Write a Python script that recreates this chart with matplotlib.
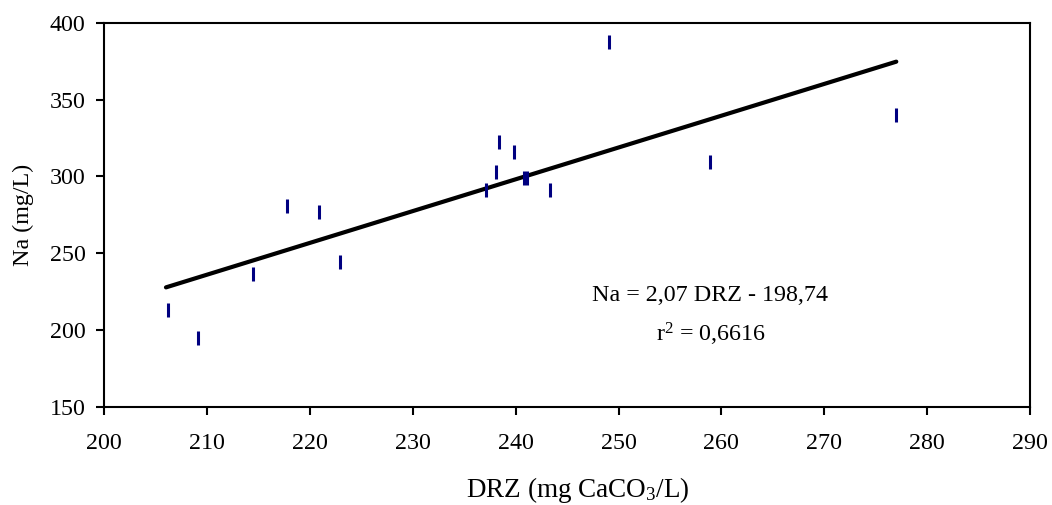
import numpy as np
import matplotlib
matplotlib.use("Agg")
import matplotlib.pyplot as plt

# data
drz = [206.2, 209.1, 214.5, 217.8, 220.9, 222.9, 237.1, 238.05, 238.4, 239.8,
       240.8, 241.1, 243.3, 249.1, 258.9, 277.0]
na = [212.9, 194.5, 236.1, 280.6, 276.7, 244.2, 291.0, 302.7, 322.3, 315.8,
      298.6, 298.6, 291.0, 387.4, 309.2, 340.0]

slope = 2.07
intercept = -198.74
r2 = 0.6616
fit_x = [206.0, 277.0]

x_ticks = [200, 210, 220, 230, 240, 250, 260, 270, 280, 290]
y_ticks = [150, 200, 250, 300, 350, 400]

plt.rcParams['font.family'] = 'Liberation Serif'
plt.rcParams['mathtext.fontset'] = 'custom'
plt.rcParams['mathtext.rm'] = 'Liberation Serif'
plt.rcParams['mathtext.it'] = 'Liberation Serif:italic'

fs = 17.3

fig = plt.figure(figsize=(10.52, 5.05), dpi=100)
ax = fig.add_axes([0.0991, 0.1947, 0.880, 0.7603])

fx = np.array(fit_x)
ax.plot(fx, slope * fx + intercept, color='black', lw=3, solid_capstyle='round', zorder=2)
ax.plot(drz, na, ls='none', marker='|', ms=10, mew=2.2, color='#000080', zorder=3)

ax.set_xlim(200, 290)
ax.set_ylim(150, 400)
ax.set_xticks(x_ticks)
ax.set_yticks(y_ticks)
ax.tick_params(direction='out', length=6, width=1.5, labelsize=fs)
ax.tick_params(axis='x', pad=13)
ax.tick_params(axis='y', pad=7.5)
for s in ax.spines.values():
    s.set_linewidth(1.5)

# label sits close to the bottom edge, like the original
ax.set_xlabel(r'DRZ (mg CaCO$_3$/L)', fontsize=19.5, labelpad=15)
ax.set_ylabel('Na (mg/L)', fontsize=fs, labelpad=11)
ax.xaxis.label.set_x(0.512)

fig.text(0.675, 0.414, 'Na = 2,07 DRZ - 198,74', ha='center', va='center', fontsize=fs)
fig.text(0.676, 0.337, r'r$^2$ = 0,6616', ha='center', va='center', fontsize=fs)

fig.savefig('out.png', dpi=100)
